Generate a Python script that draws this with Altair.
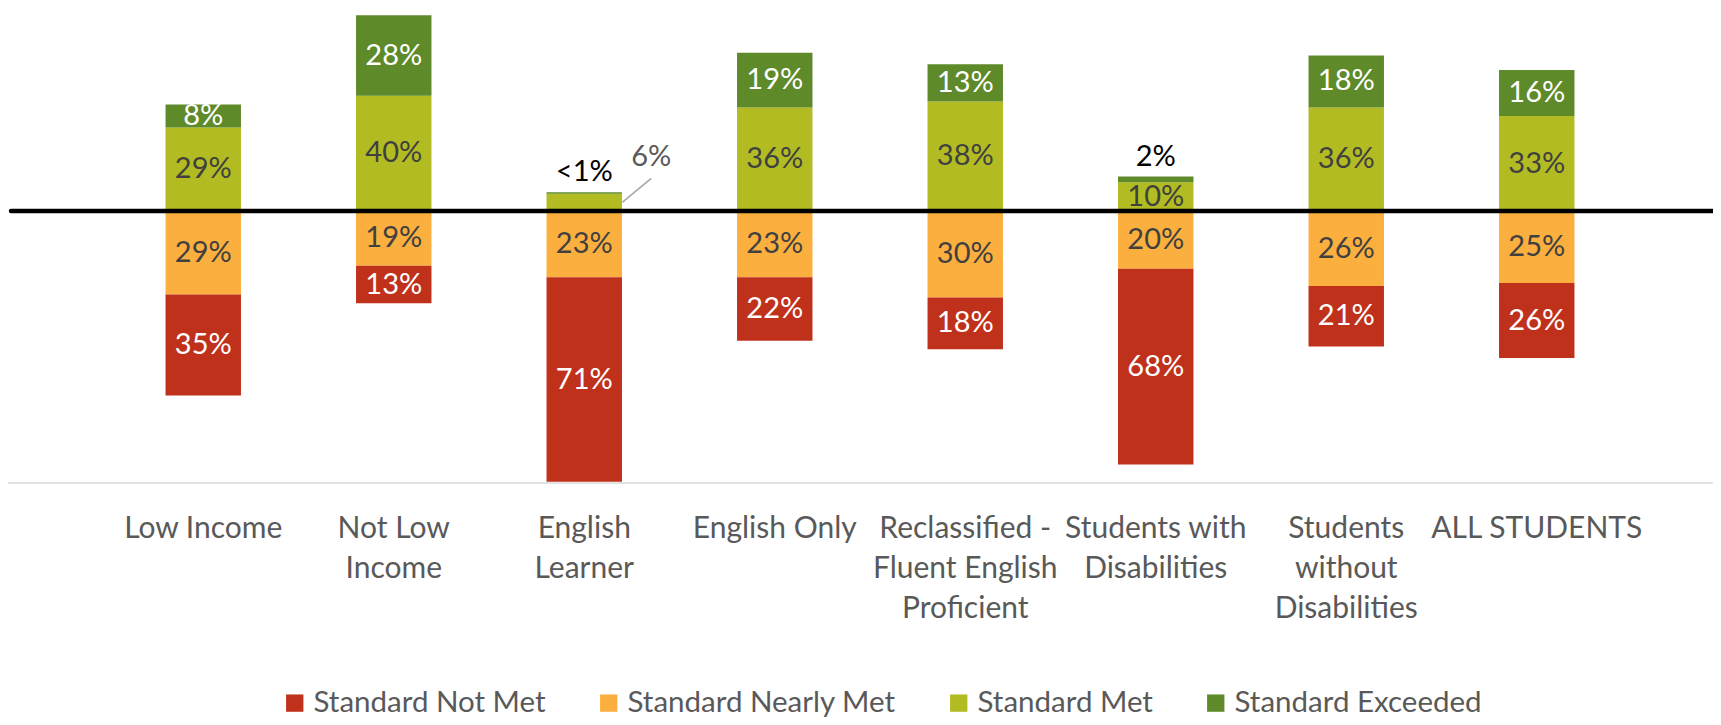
import altair as alt
import pandas as pd

groups = ["Low Income", "Not Low|Income", "English|Learner", "English Only",
          "Reclassified -|Fluent English|Proficient", "Students with|Disabilities",
          "Students|without|Disabilities", "ALL STUDENTS"]
levels = ["Standard Not Met", "Standard Nearly Met", "Standard Met", "Standard Exceeded"]
not_met = [35, 13, 71, 22, 18, 68, 21, 26]
nearly_met = [29, 19, 23, 23, 30, 20, 26, 25]
met = [29, 40, 6, 36, 38, 10, 36, 33]
exceeded = [8, 28, 0.5, 19, 13, 2, 18, 16]
colors = ["#C0311C", "#FBAF3F", "#B2BC22", "#5E8A2A"]
text_colors = ["#FFFFFF", "#404040", "#404040", "#FFFFFF"]

FONT = "Lato"

rows = []
for i, g in enumerate(groups):
    segs = [
        (levels[1], 0, -nearly_met[i], nearly_met[i]),
        (levels[0], -nearly_met[i], -nearly_met[i] - not_met[i], not_met[i]),
        (levels[2], 0, met[i], met[i]),
        (levels[3], met[i], met[i] + exceeded[i], exceeded[i]),
    ]
    for lev, a, b, v in segs:
        rows.append({
            "group": g, "level": lev, "lo": a, "hi": b, "mid": (a + b) / 2,
            "value": v, "text": "<1%" if v < 1 else f"{v:g}%",
            "tcolor": text_colors[levels.index(lev)],
            "inside": v > 6,
            "top": b,
        })
df = pd.DataFrame(rows)

x = alt.X("group:N", sort=groups,
          scale=alt.Scale(paddingInner=0.604, paddingOuter=0.302),
          axis=alt.Axis(title=None, labelExpr="split(datum.label, '|')", labelAngle=0,
                        domain=False, ticks=False, grid=False, labelFont=FONT,
                        labelFontSize=30, labelColor="#595959", labelLineHeight=40,
                        labelPadding=30, labelLimit=0))
yscale = alt.Scale(domain=[-94.4, 70.5], nice=False, zero=False)

base = alt.Chart(df)

bars = base.mark_bar().encode(
    x=x,
    y=alt.Y("lo:Q", scale=yscale, axis=None),
    y2="hi:Q",
    color=alt.Color("level:N", sort=levels,
                    scale=alt.Scale(domain=levels, range=colors),
                    legend=alt.Legend(orient="none", legendX=172, legendY=680,
                                      direction="horizontal", title=None,
                                      symbolType="square", symbolSize=300,
                                      symbolStrokeWidth=0, labelFont=FONT,
                                      labelFontSize=29.5, labelColor="#595959",
                                      labelOffset=4, columnPadding=48, padding=0,
                                      labelLimit=0)),
)

inside = base.transform_filter("datum.inside").mark_text(
    font=FONT, fontSize=29, baseline="middle", align="center"
).encode(
    x=alt.X("group:N", sort=groups),
    y=alt.Y("mid:Q"),
    text="text:N",
    color=alt.Color("tcolor:N", scale=None),
)

top_labels = base.transform_filter(
    "!datum.inside && datum.level == 'Standard Exceeded'"
).mark_text(font=FONT, fontSize=29, baseline="middle", align="center",
            dy=-20, color="#000000").encode(
    x=alt.X("group:N", sort=groups),
    y=alt.Y("top:Q"),
    text="text:N",
)

side_label = base.transform_filter(
    "!datum.inside && datum.level == 'Standard Met'"
).mark_text(font=FONT, fontSize=29, baseline="middle", align="center",
            dx=67, dy=-45, color="#595959").encode(
    x=alt.X("group:N", sort=groups),
    y=alt.Y("mid:Q"),
    text="text:N",
)

leader = base.transform_filter(
    "!datum.inside && datum.level == 'Standard Met'"
).mark_rule(color="#A6A6A6", strokeWidth=1.5, xOffset=38, x2Offset=67,
            yOffset=0, y2Offset=-24).encode(
    x=alt.X("group:N", sort=groups),
    x2="group:N",
    y=alt.Y("mid:Q"),
    y2="mid:Q",
)

gray_line = alt.Chart(pd.DataFrame({"v": [0]})).mark_rule(
    color="#D9D9D9", strokeWidth=1.5
).encode(x=alt.value(-100), x2=alt.value(1613), y=alt.value(475))

zero_line = alt.Chart(pd.DataFrame({"v": [0]})).mark_rule(
    color="#000000", strokeWidth=4.5, strokeCap="round"
).encode(x=alt.value(-97), x2=alt.value(1613), y=alt.Y("v:Q"))

chart = alt.layer(bars, inside, top_labels, side_label, leader, gray_line, zero_line).properties(
    width=1524, height=475,
    autosize=alt.AutoSizeParams(type="none"),
    padding={"left": 100, "top": 0, "right": 81, "bottom": 234},
    background="white",
).configure_view(stroke=None)

chart.save("out.html", embed_options={"renderer": "svg", "actions": False})
